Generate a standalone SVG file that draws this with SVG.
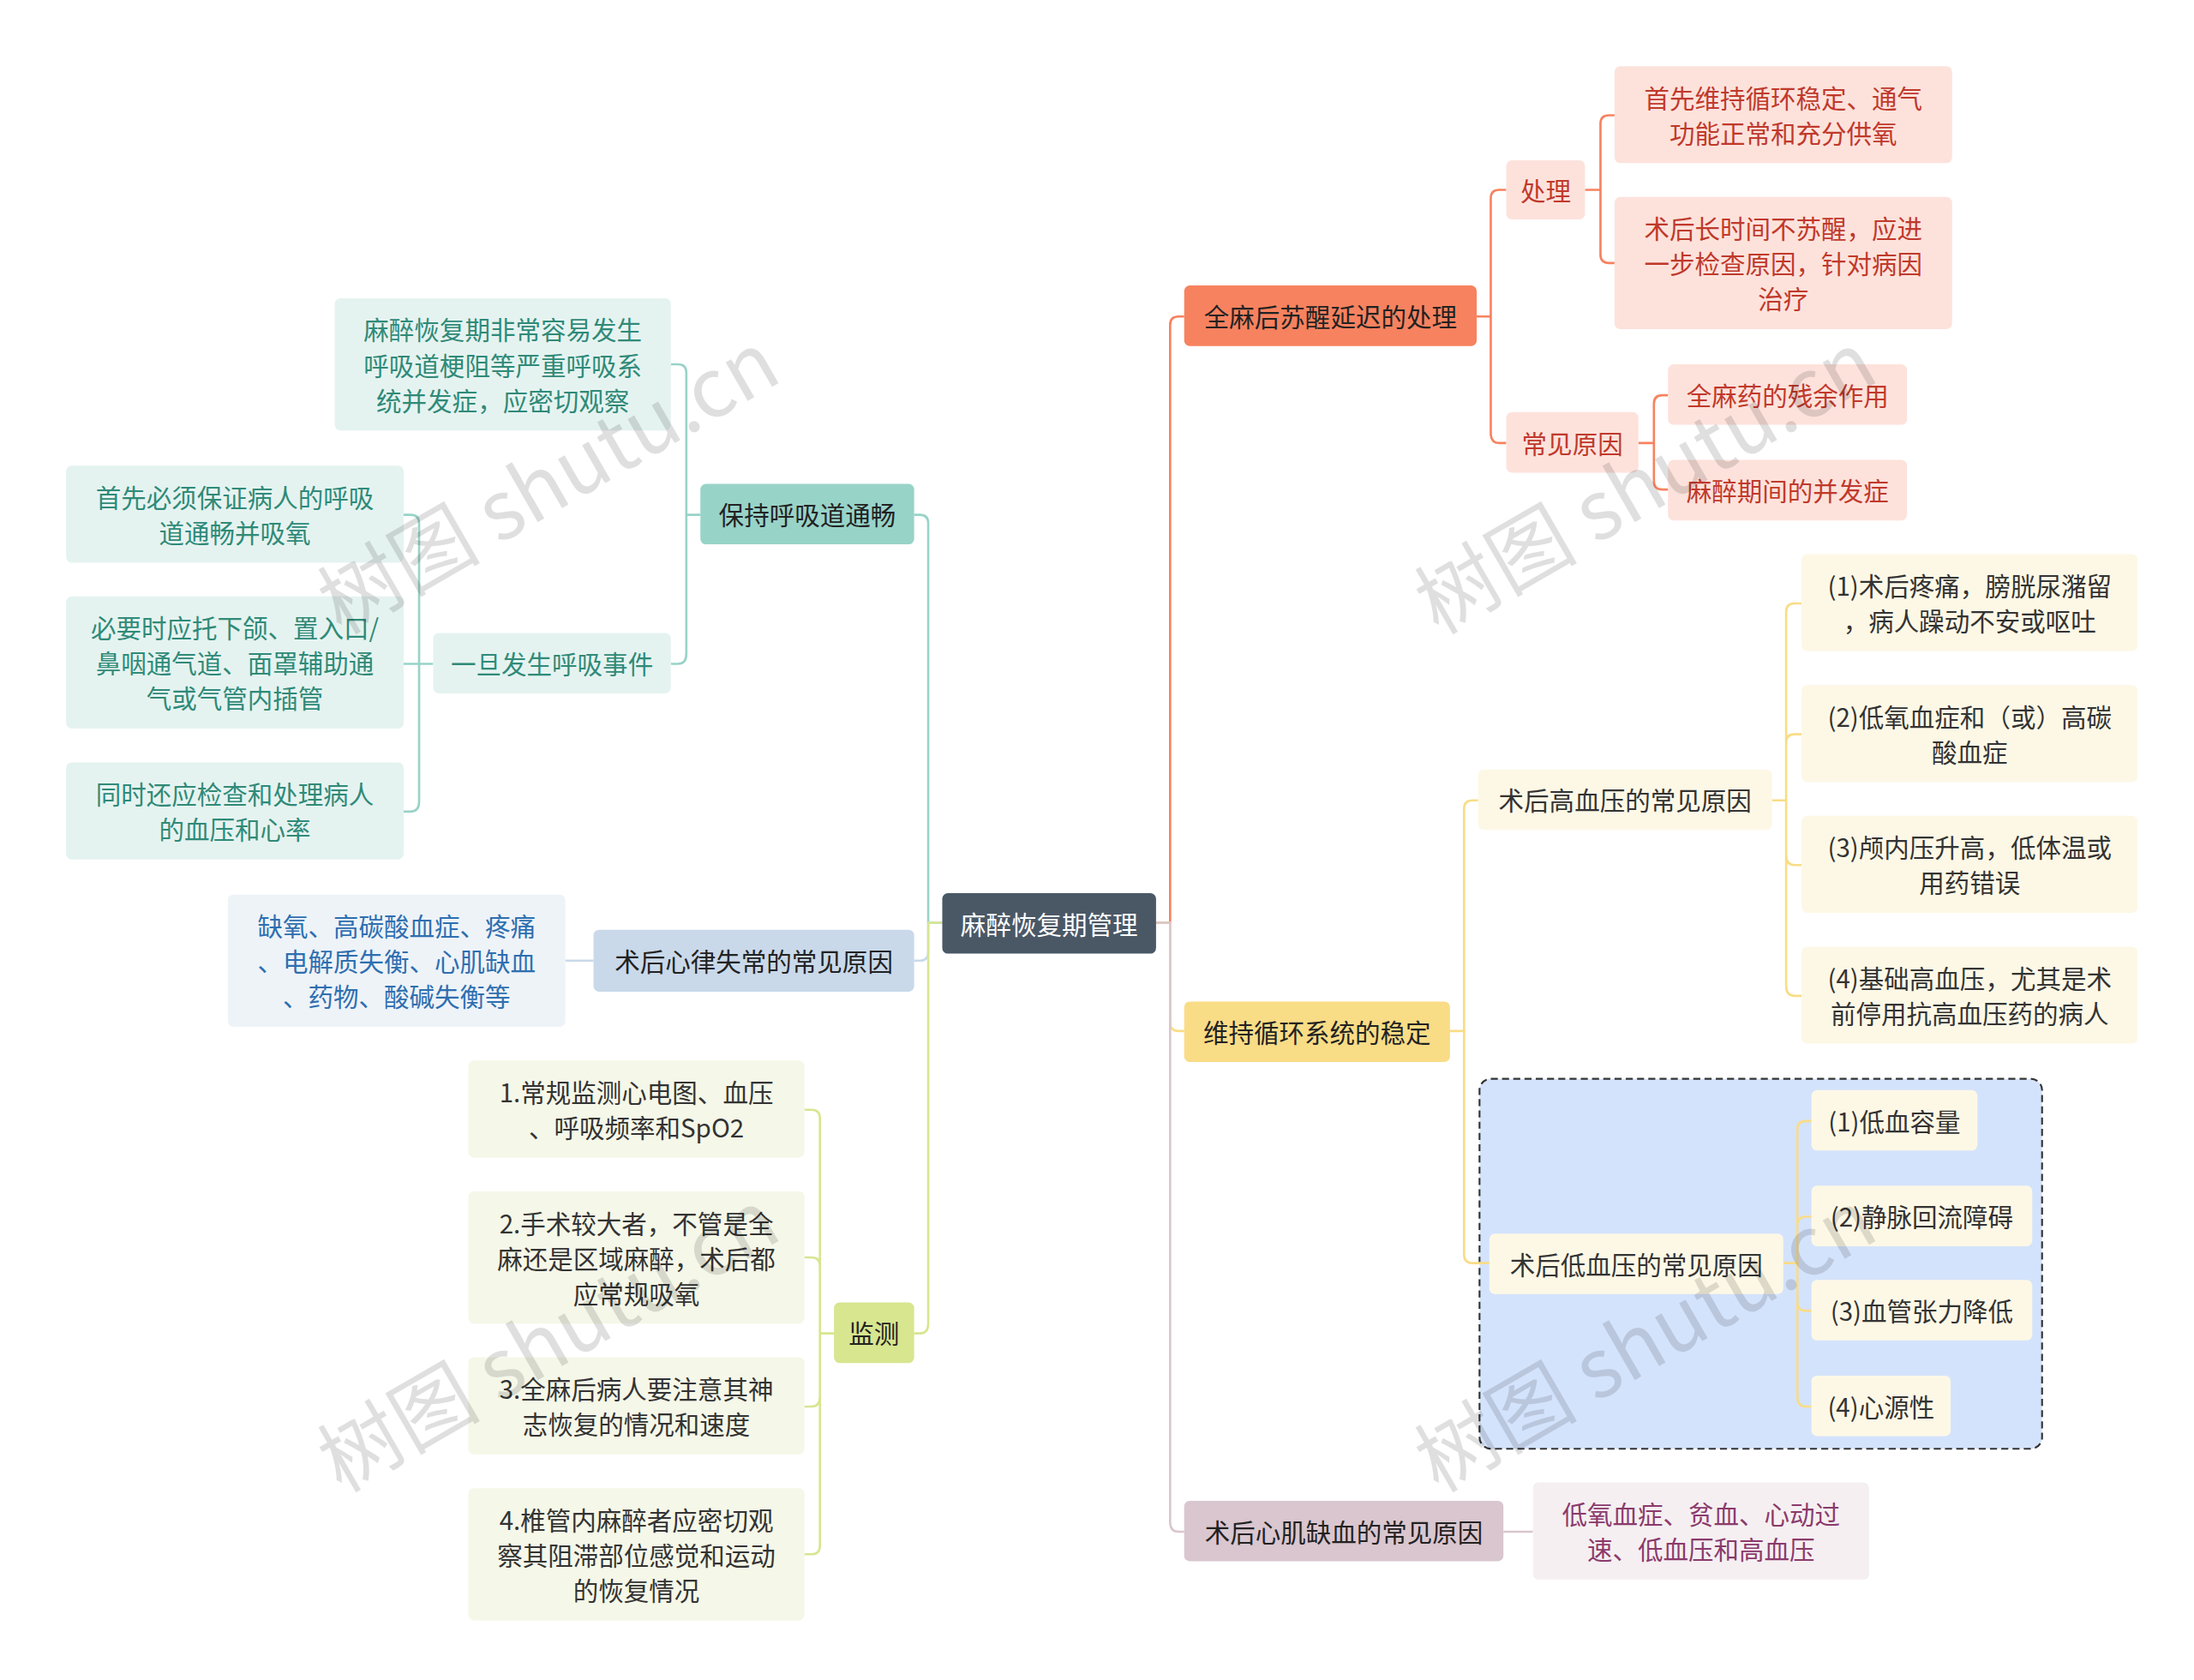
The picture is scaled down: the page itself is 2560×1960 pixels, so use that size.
<svg xmlns="http://www.w3.org/2000/svg" width="2560" height="1960" viewBox="0 0 2560 1960">
<style>
text{font-family:"Noto Sans CJK SC","Noto Sans",sans-serif;font-size:18px;text-anchor:middle;dominant-baseline:central}
.c{fill:none;stroke-width:1.6}
.wm{font-size:58px;fill:#000;opacity:0.12;text-anchor:start}
</style>
<rect width="2560" height="1960" fill="#fff"/>
<g transform="scale(1.641)">
<rect x="1052" y="767" width="400" height="263" rx="8" fill="#d4e3fc" stroke="#333" stroke-width="1.3" stroke-dasharray="5,3"/>
<g id="connectors">
<path class="c" stroke="#f7825f" d="M822 656H832V231Q832 225 838 225H842"/>
<path class="c" stroke="#f9dc86" d="M822 656H832V727Q832 733 838 733H842"/>
<path class="c" stroke="#d9c6cf" d="M822 656H832V1082Q832 1089 838 1089H842"/>
<path class="c" stroke="#98d3c8" d="M670 656H660V372Q660 366 654 366H650"/>
<path class="c" stroke="#c9d9ea" d="M670 656H660V677Q660 683 654 683H650"/>
<path class="c" stroke="#d7e68f" d="M670 656H660V941Q660 948 654 948H650"/>
<path class="c" stroke="#f7825f" d="M1050 225H1060V141Q1060 135 1066 135H1071M1060 225V308Q1060 315 1066 315H1071"/>
<path class="c" stroke="#f7825f" d="M1127 135H1138V88Q1138 82 1144 82H1148M1138 135V181Q1138 187 1144 187H1148"/>
<path class="c" stroke="#f7825f" d="M1165 315H1176V287Q1176 281 1182 281H1186M1176 315V342Q1176 348 1182 348H1186"/>
<path class="c" stroke="#f9dc86" d="M1031 733H1041V575Q1041 569 1047 569H1051M1041 733V892Q1041 898 1047 898H1059"/>
<path class="c" stroke="#f9dc86" d="M1260 569H1270V435Q1270 429 1276 429H1281M1270 569V528Q1270 522 1276 522H1281M1270 569V608Q1270 615 1276 615H1281M1270 569V701Q1270 708 1276 708H1281"/>
<path class="c" stroke="#f9dc86" d="M1268 898H1278V803Q1278 797 1284 797H1288M1278 898V871Q1278 865 1284 865H1288M1278 898V925Q1278 932 1284 932H1288M1278 898V993Q1278 1000 1284 1000H1288"/>
<path class="c" stroke="#d9c6cf" d="M1069 1089H1090"/>
<path class="c" stroke="#98d3c8" d="M498 366H488V265Q488 259 482 259H477M488 366V465Q488 472 482 472H477"/>
<path class="c" stroke="#98d3c8" d="M308 472H298V372Q298 366 292 366H287M298 472H287M298 472V570Q298 577 292 577H287"/>
<path class="c" stroke="#c9d9ea" d="M422 683H402"/>
<path class="c" stroke="#d7e68f" d="M593 948H583V795Q583 789 577 789H572M583 948V900Q583 894 577 894H572M583 948V993Q583 1000 577 1000H572M583 948V1099Q583 1105 577 1105H572"/>
</g>
<g id="root"><rect x="670" y="635" width="152" height="43" rx="4" fill="#4a5866"/><text x="746" y="656.5" fill="#fff">麻醉恢复期管理</text></g>
<g id="n1"><rect x="842" y="203" width="208" height="43" rx="4" fill="#f7825f"/><text x="946" y="224.5" fill="#222">全麻后苏醒延迟的处理</text></g>
<g id="n1a"><rect x="1071" y="114" width="56" height="42" rx="4" fill="#fde2dc"/><text x="1099" y="135" fill="#c0392b">处理</text></g>
<g id="n1a1"><rect x="1148" y="47" width="240" height="69" rx="4" fill="#fde2dc"/><text x="1268" y="69" fill="#c0392b">首先维持循环稳定、通气</text><text x="1268" y="94" fill="#c0392b">功能正常和充分供氧</text></g>
<g id="n1a2"><rect x="1148" y="140" width="240" height="94" rx="4" fill="#fde2dc"/><text x="1268" y="162" fill="#c0392b">术后长时间不苏醒，应进</text><text x="1268" y="187" fill="#c0392b">一步检查原因，针对病因</text><text x="1268" y="212" fill="#c0392b">治疗</text></g>
<g id="n1b"><rect x="1071" y="293" width="94" height="43" rx="4" fill="#fde2dc"/><text x="1118" y="314.5" fill="#c0392b">常见原因</text></g>
<g id="n1b1"><rect x="1186" y="259" width="170" height="43" rx="4" fill="#fde2dc"/><text x="1271" y="280.5" fill="#c0392b">全麻药的残余作用</text></g>
<g id="n1b2"><rect x="1186" y="327" width="170" height="43" rx="4" fill="#fde2dc"/><text x="1271" y="348.5" fill="#c0392b">麻醉期间的并发症</text></g>
<g id="n2"><rect x="842" y="712" width="189" height="43" rx="4" fill="#f9dc86"/><text x="936.5" y="733.5" fill="#222">维持循环系统的稳定</text></g>
<g id="n2a"><rect x="1051" y="547" width="209" height="43" rx="4" fill="#fdf8e6"/><text x="1155.5" y="568.5" fill="#333">术后高血压的常见原因</text></g>
<g id="n2a1"><rect x="1281" y="394" width="239" height="69" rx="4" fill="#fdf8e6"/><text x="1400.5" y="416" fill="#333">(1)术后疼痛，膀胱尿潴留</text><text x="1400.5" y="441" fill="#333">，病人躁动不安或呕吐</text></g>
<g id="n2a2"><rect x="1281" y="487" width="239" height="69" rx="4" fill="#fdf8e6"/><text x="1400.5" y="509" fill="#333">(2)低氧血症和（或）高碳</text><text x="1400.5" y="534" fill="#333">酸血症</text></g>
<g id="n2a3"><rect x="1281" y="580" width="239" height="69" rx="4" fill="#fdf8e6"/><text x="1400.5" y="602" fill="#333">(3)颅内压升高，低体温或</text><text x="1400.5" y="627" fill="#333">用药错误</text></g>
<g id="n2a4"><rect x="1281" y="673" width="239" height="69" rx="4" fill="#fdf8e6"/><text x="1400.5" y="695" fill="#333">(4)基础高血压，尤其是术</text><text x="1400.5" y="720" fill="#333">前停用抗高血压药的病人</text></g>
<g id="n2b"><rect x="1059" y="877" width="209" height="43" rx="4" fill="#fdf8e6"/><text x="1163.5" y="898.5" fill="#333">术后低血压的常见原因</text></g>
<g id="n2b1"><rect x="1288" y="775" width="118" height="43" rx="4" fill="#fdf8e6"/><text x="1347" y="796.5" fill="#333">(1)低血容量</text></g>
<g id="n2b2"><rect x="1288" y="843" width="157" height="43" rx="4" fill="#fdf8e6"/><text x="1366.5" y="864.5" fill="#333">(2)静脉回流障碍</text></g>
<g id="n2b3"><rect x="1288" y="910" width="157" height="43" rx="4" fill="#fdf8e6"/><text x="1366.5" y="931.5" fill="#333">(3)血管张力降低</text></g>
<g id="n2b4"><rect x="1288" y="978" width="99" height="43" rx="4" fill="#fdf8e6"/><text x="1337.5" y="999.5" fill="#333">(4)心源性</text></g>
<g id="n3"><rect x="842" y="1067" width="227" height="43" rx="4" fill="#d9c6cf"/><text x="955.5" y="1088.5" fill="#222">术后心肌缺血的常见原因</text></g>
<g id="n3a"><rect x="1090" y="1054" width="239" height="69" rx="4" fill="#f5eff2"/><text x="1209.5" y="1076" fill="#8b3a6b">低氧血症、贫血、心动过</text><text x="1209.5" y="1101" fill="#8b3a6b">速、低血压和高血压</text></g>
<g id="n4"><rect x="498" y="344" width="152" height="43" rx="4" fill="#98d3c8"/><text x="574" y="365.5" fill="#222">保持呼吸道通畅</text></g>
<g id="n4a"><rect x="238" y="212" width="239" height="94" rx="4" fill="#e5f3f0"/><text x="357.5" y="234" fill="#2f8a78">麻醉恢复期非常容易发生</text><text x="357.5" y="259" fill="#2f8a78">呼吸道梗阻等严重呼吸系</text><text x="357.5" y="284" fill="#2f8a78">统并发症，应密切观察</text></g>
<g id="n4b"><rect x="308" y="450" width="169" height="43" rx="4" fill="#e5f3f0"/><text x="392.5" y="471.5" fill="#2f8a78">一旦发生呼吸事件</text></g>
<g id="n4b1"><rect x="47" y="331" width="240" height="69" rx="4" fill="#e5f3f0"/><text x="167" y="353" fill="#2f8a78">首先必须保证病人的呼吸</text><text x="167" y="378" fill="#2f8a78">道通畅并吸氧</text></g>
<g id="n4b2"><rect x="47" y="424" width="240" height="94" rx="4" fill="#e5f3f0"/><text x="167" y="446" fill="#2f8a78">必要时应托下颌、置入口/</text><text x="167" y="471" fill="#2f8a78">鼻咽通气道、面罩辅助通</text><text x="167" y="496" fill="#2f8a78">气或气管内插管</text></g>
<g id="n4b3"><rect x="47" y="542" width="240" height="69" rx="4" fill="#e5f3f0"/><text x="167" y="564" fill="#2f8a78">同时还应检查和处理病人</text><text x="167" y="589" fill="#2f8a78">的血压和心率</text></g>
<g id="n5"><rect x="422" y="661" width="228" height="44" rx="4" fill="#c9d9ea"/><text x="536" y="683" fill="#222">术后心律失常的常见原因</text></g>
<g id="n5a"><rect x="162" y="636" width="240" height="94" rx="4" fill="#eef3f8"/><text x="282" y="658" fill="#2e6fb0">缺氧、高碳酸血症、疼痛</text><text x="282" y="683" fill="#2e6fb0">、电解质失衡、心肌缺血</text><text x="282" y="708" fill="#2e6fb0">、药物、酸碱失衡等</text></g>
<g id="n6"><rect x="593" y="926" width="57" height="43" rx="4" fill="#d7e68f"/><text x="621.5" y="947.5" fill="#222">监测</text></g>
<g id="n6a"><rect x="333" y="754" width="239" height="69" rx="4" fill="#f5f7e8"/><text x="452.5" y="776" fill="#333">1.常规监测心电图、血压</text><text x="452.5" y="801" fill="#333">、呼吸频率和SpO2</text></g>
<g id="n6b"><rect x="333" y="847" width="239" height="94" rx="4" fill="#f5f7e8"/><text x="452.5" y="869" fill="#333">2.手术较大者，不管是全</text><text x="452.5" y="894" fill="#333">麻还是区域麻醉，术后都</text><text x="452.5" y="919" fill="#333">应常规吸氧</text></g>
<g id="n6c"><rect x="333" y="965" width="239" height="69" rx="4" fill="#f5f7e8"/><text x="452.5" y="987" fill="#333">3.全麻后病人要注意其神</text><text x="452.5" y="1012" fill="#333">志恢复的情况和速度</text></g>
<g id="n6d"><rect x="333" y="1058" width="239" height="94" rx="4" fill="#f5f7e8"/><text x="452.5" y="1080" fill="#333">4.椎管内麻醉者应密切观</text><text x="452.5" y="1105" fill="#333">察其阻滞部位感觉和运动</text><text x="452.5" y="1130" fill="#333">的恢复情况</text></g>
<text class="wm" transform="translate(230 430) rotate(-30)">树图 shutu.cn</text>
<text class="wm" transform="translate(1010 430) rotate(-30)">树图 shutu.cn</text>
<text class="wm" transform="translate(230 1040) rotate(-30)">树图 shutu.cn</text>
<text class="wm" transform="translate(1010 1040) rotate(-30)">树图 shutu.cn</text>
</g>
</svg>
